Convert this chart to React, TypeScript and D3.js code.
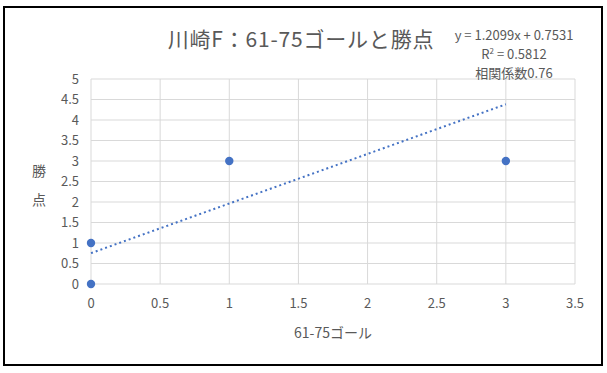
import React from "react";
import * as d3 from "d3";

const goals = [0, 0, 1, 3];
const points = [0, 1, 3, 3];
const trendSlope = 1.2099;
const trendIntercept = 0.7531;
const rSquared = 0.5812;
const correlation = 0.76;
const xTicks = [0, 0.5, 1, 1.5, 2, 2.5, 3, 3.5];
const yTicks = [0, 0.5, 1, 1.5, 2, 2.5, 3, 3.5, 4, 4.5, 5];
const title = "川崎F：61-75ゴールと勝点";
const xTitle = "61-75ゴール";
const yTitleChars = ["勝", "点"];

const W = 607;
const H = 373;
const FONT = "'Noto Sans CJK JP', 'Open Sans', sans-serif";
const TXT = "#595959";
const BLUE = "#4472C4";

export default function App() {
  const x = d3.scaleLinear().domain([0, 3.5]).range([91, 575]);
  const y = d3.scaleLinear().domain([0, 5]).range([284, 79]);
  const xMin = d3.min(goals) as number;
  const xMax = d3.max(goals) as number;
  const line = d3
    .line<number>()
    .x((d) => x(d))
    .y((d) => y(trendSlope * d + trendIntercept));

  return (
    <svg
      width={W}
      height={H}
      style={{ position: "absolute", left: 0, top: 0, background: "#fff" }}
      fontFamily={FONT}
    >
      <rect x={0} y={0} width={W} height={H} fill="#fff" />
      <rect x={4} y={7} width={598} height={358} fill="none" stroke="#000" strokeWidth={2} />
      {yTicks.map((t) => (
        <line key={"h" + t} x1={x(0)} x2={x(3.5)} y1={y(t)} y2={y(t)} stroke="#d9d9d9" strokeWidth={1} />
      ))}
      {xTicks.map((t) => (
        <line key={"v" + t} x1={x(t)} x2={x(t)} y1={y(0)} y2={y(5)} stroke="#d9d9d9" strokeWidth={1} />
      ))}
      {yTicks.map((t) => (
        <text key={"yl" + t} x={79} y={y(t)} dy="0.35em" textAnchor="end" fontSize={13} fill={TXT}>
          {t}
        </text>
      ))}
      {xTicks.map((t) => (
        <text key={"xl" + t} x={x(t)} y={303} dy="0.35em" textAnchor="middle" fontSize={13} fill={TXT}>
          {t}
        </text>
      ))}
      <path
        d={line([xMin, xMax]) || ""}
        fill="none"
        stroke={BLUE}
        strokeWidth={2}
        strokeDasharray="2 3"
      />
      {goals.map((g, i) => (
        <circle key={"p" + i} cx={x(g)} cy={y(points[i])} r={4.2} fill={BLUE} />
      ))}
      <text x={301} y={47} textAnchor="middle" fontSize={21} letterSpacing={0.8} fill={TXT}>
        {title}
      </text>
      <g fontSize={13} fill={TXT} textAnchor="middle">
        <text x={514} y={35} dy="0.35em">
          {`y = ${trendSlope.toFixed(4)}x + ${trendIntercept.toFixed(4)}`}
        </text>
        <text x={514} y={54} dy="0.35em">
          R<tspan dy="-5" fontSize={8}>2</tspan>
          <tspan dy="5">{` = ${rSquared.toFixed(4)}`}</tspan>
        </text>
        <text x={514} y={73} dy="0.35em">
          {`相関係数${correlation.toFixed(2)}`}
        </text>
      </g>
      <text x={333} y={333} dy="0.35em" textAnchor="middle" fontSize={14} fill={TXT}>
        {xTitle}
      </text>
      {yTitleChars.map((c, i) => (
        <text key={c} x={39} y={171 + i * 29} dy="0.35em" textAnchor="middle" fontSize={14} fill={TXT}>
          {c}
        </text>
      ))}
    </svg>
  );
}
